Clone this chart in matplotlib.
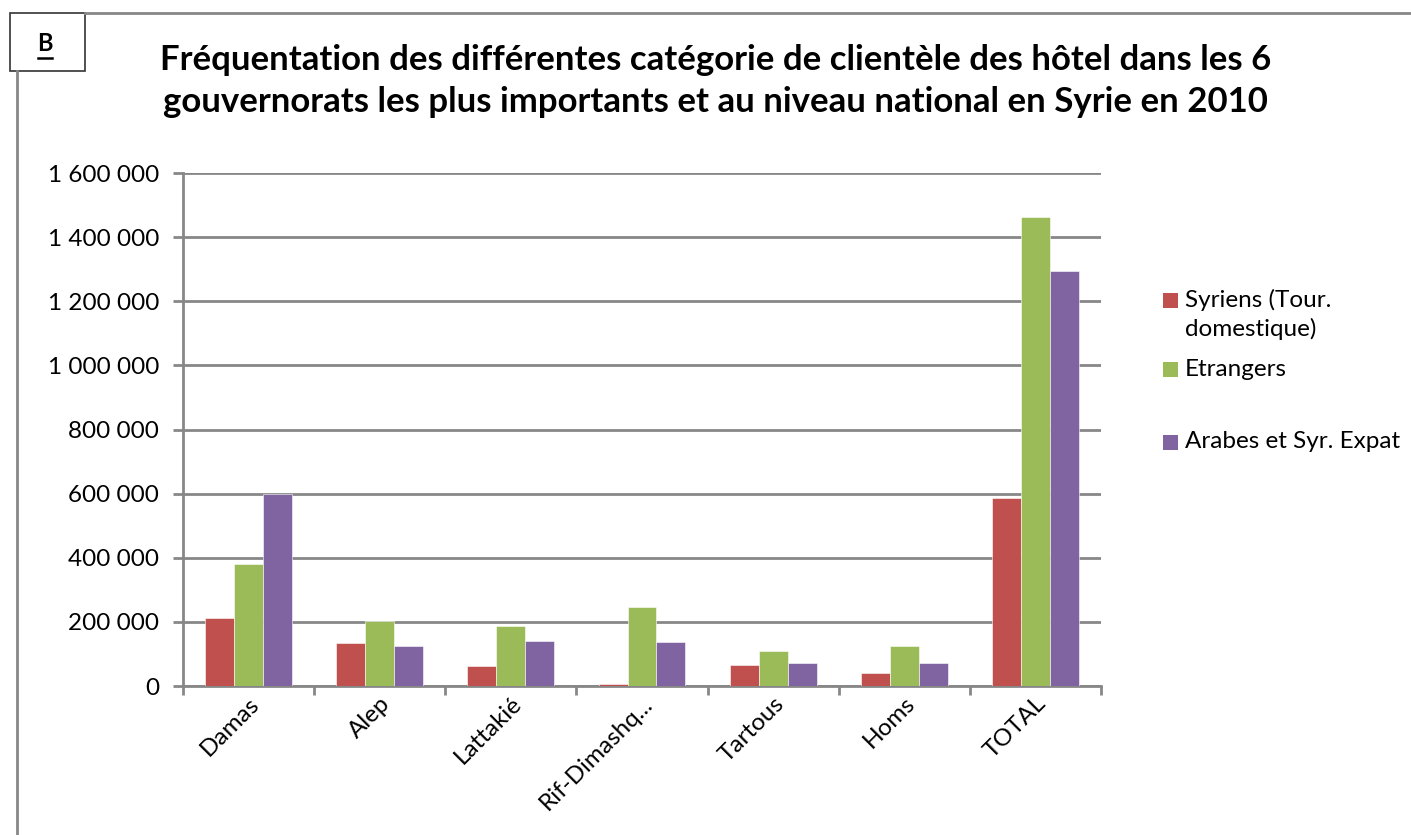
import numpy as np
import matplotlib.pyplot as plt
from matplotlib.patches import Rectangle
from matplotlib.lines import Line2D
from matplotlib.ticker import FuncFormatter, FixedLocator

plt.rcParams['font.family'] = ['Lato', 'DejaVu Sans']

categories = ["Damas", "Alep", "Lattakié", "Rif-Dimashq...", "Tartous", "Homs", "TOTAL"]
syriens = [212000, 134000, 62000, 5000, 66000, 41000, 587000]
etrangers = [381000, 203000, 187000, 246000, 109000, 125000, 1463000]
arabes = [600000, 125000, 140000, 137000, 72000, 72000, 1295000]
series_names = ["Syriens (Tour.\ndomestique)", "Etrangers", "Arabes et Syr. Expat"]
colors = ["#C0504D", "#9BBB59", "#8064A2"]
grey = "#878787"

fig = plt.figure(figsize=(14.11, 8.35), dpi=100)
ax = fig.add_axes([0.1297, 0.1784, 0.6506, 0.6144])

x = np.arange(len(categories))
w = 0.221
for i, (vals, c) in enumerate(zip([syriens, etrangers, arabes], colors)):
    ax.bar(x + (i - 1) * w, vals, width=w, color=c, zorder=3,
           edgecolor="white", linewidth=0.4)

ax.set_xlim(-0.5, len(categories) - 0.5)
ax.set_ylim(0, 1600000)
ax.set_yticks(np.arange(0, 1600001, 200000))
ax.yaxis.set_major_formatter(FuncFormatter(lambda v, p: f"{int(v):,}".replace(",", " ")))
ax.grid(axis="y", color=grey, linewidth=2, zorder=0)
ax.tick_params(axis="y", length=7.2, width=2, color=grey, labelsize=17.5, pad=10)

ax.set_xticks(x)
ax.set_xticklabels(categories, rotation=45, ha="right", rotation_mode="anchor", fontsize=17.5)
ax.tick_params(axis="x", which="major", length=0, pad=5)
ax.xaxis.set_minor_locator(FixedLocator(np.arange(-0.5, len(categories), 1.0)))
ax.tick_params(axis="x", which="minor", length=6.5, width=2, color=grey)

for s in ["top", "right"]:
    ax.spines[s].set_visible(False)
for s in ["left", "bottom"]:
    ax.spines[s].set_color(grey)
    ax.spines[s].set_linewidth(2)

# legend, laid out like the original (gap before the last entry)
leg_y = [300, 370, 442]
for name, c, yp in zip(series_names, colors, leg_y):
    fy = 1 - yp / 835
    fig.add_artist(Rectangle((1163 / 1411, fy - 7.5 / 835), 15 / 1411, 15 / 835,
                             transform=fig.transFigure, facecolor=c, edgecolor="none"))
    fig.text(1185 / 1411, fy + 11 / 835, name, ha="left", va="top", fontsize=17.5, linespacing=1.35)

fig.text(0.507, 0.903, "Fréquentation des différentes catégorie de clientèle des hôtel dans les 6\n"
         "gouvernorats les plus importants et au niveau national en Syrie en 2010",
         ha="center", va="center", fontsize=25, fontweight="bold", linespacing=1.38)

# outer frame and "B" box
fig.add_artist(Line2D([0.012, 0.012], [0.915, 0.0], transform=fig.transFigure, color=grey, lw=2))
fig.add_artist(Line2D([0.06, 1.0], [0.984, 0.984], transform=fig.transFigure, color=grey, lw=2))
fig.add_artist(Rectangle((0.007, 0.915), 0.053, 0.069, transform=fig.transFigure,
                         facecolor="white", edgecolor="#333333", lw=1.2))
fig.text(0.032, 0.948, "B", ha="center", va="center", fontsize=17, fontweight="bold")
fig.add_artist(Line2D([0.027, 0.037], [0.931, 0.931], transform=fig.transFigure, color="black", lw=1.8))

fig.savefig("out.png", dpi=100)
